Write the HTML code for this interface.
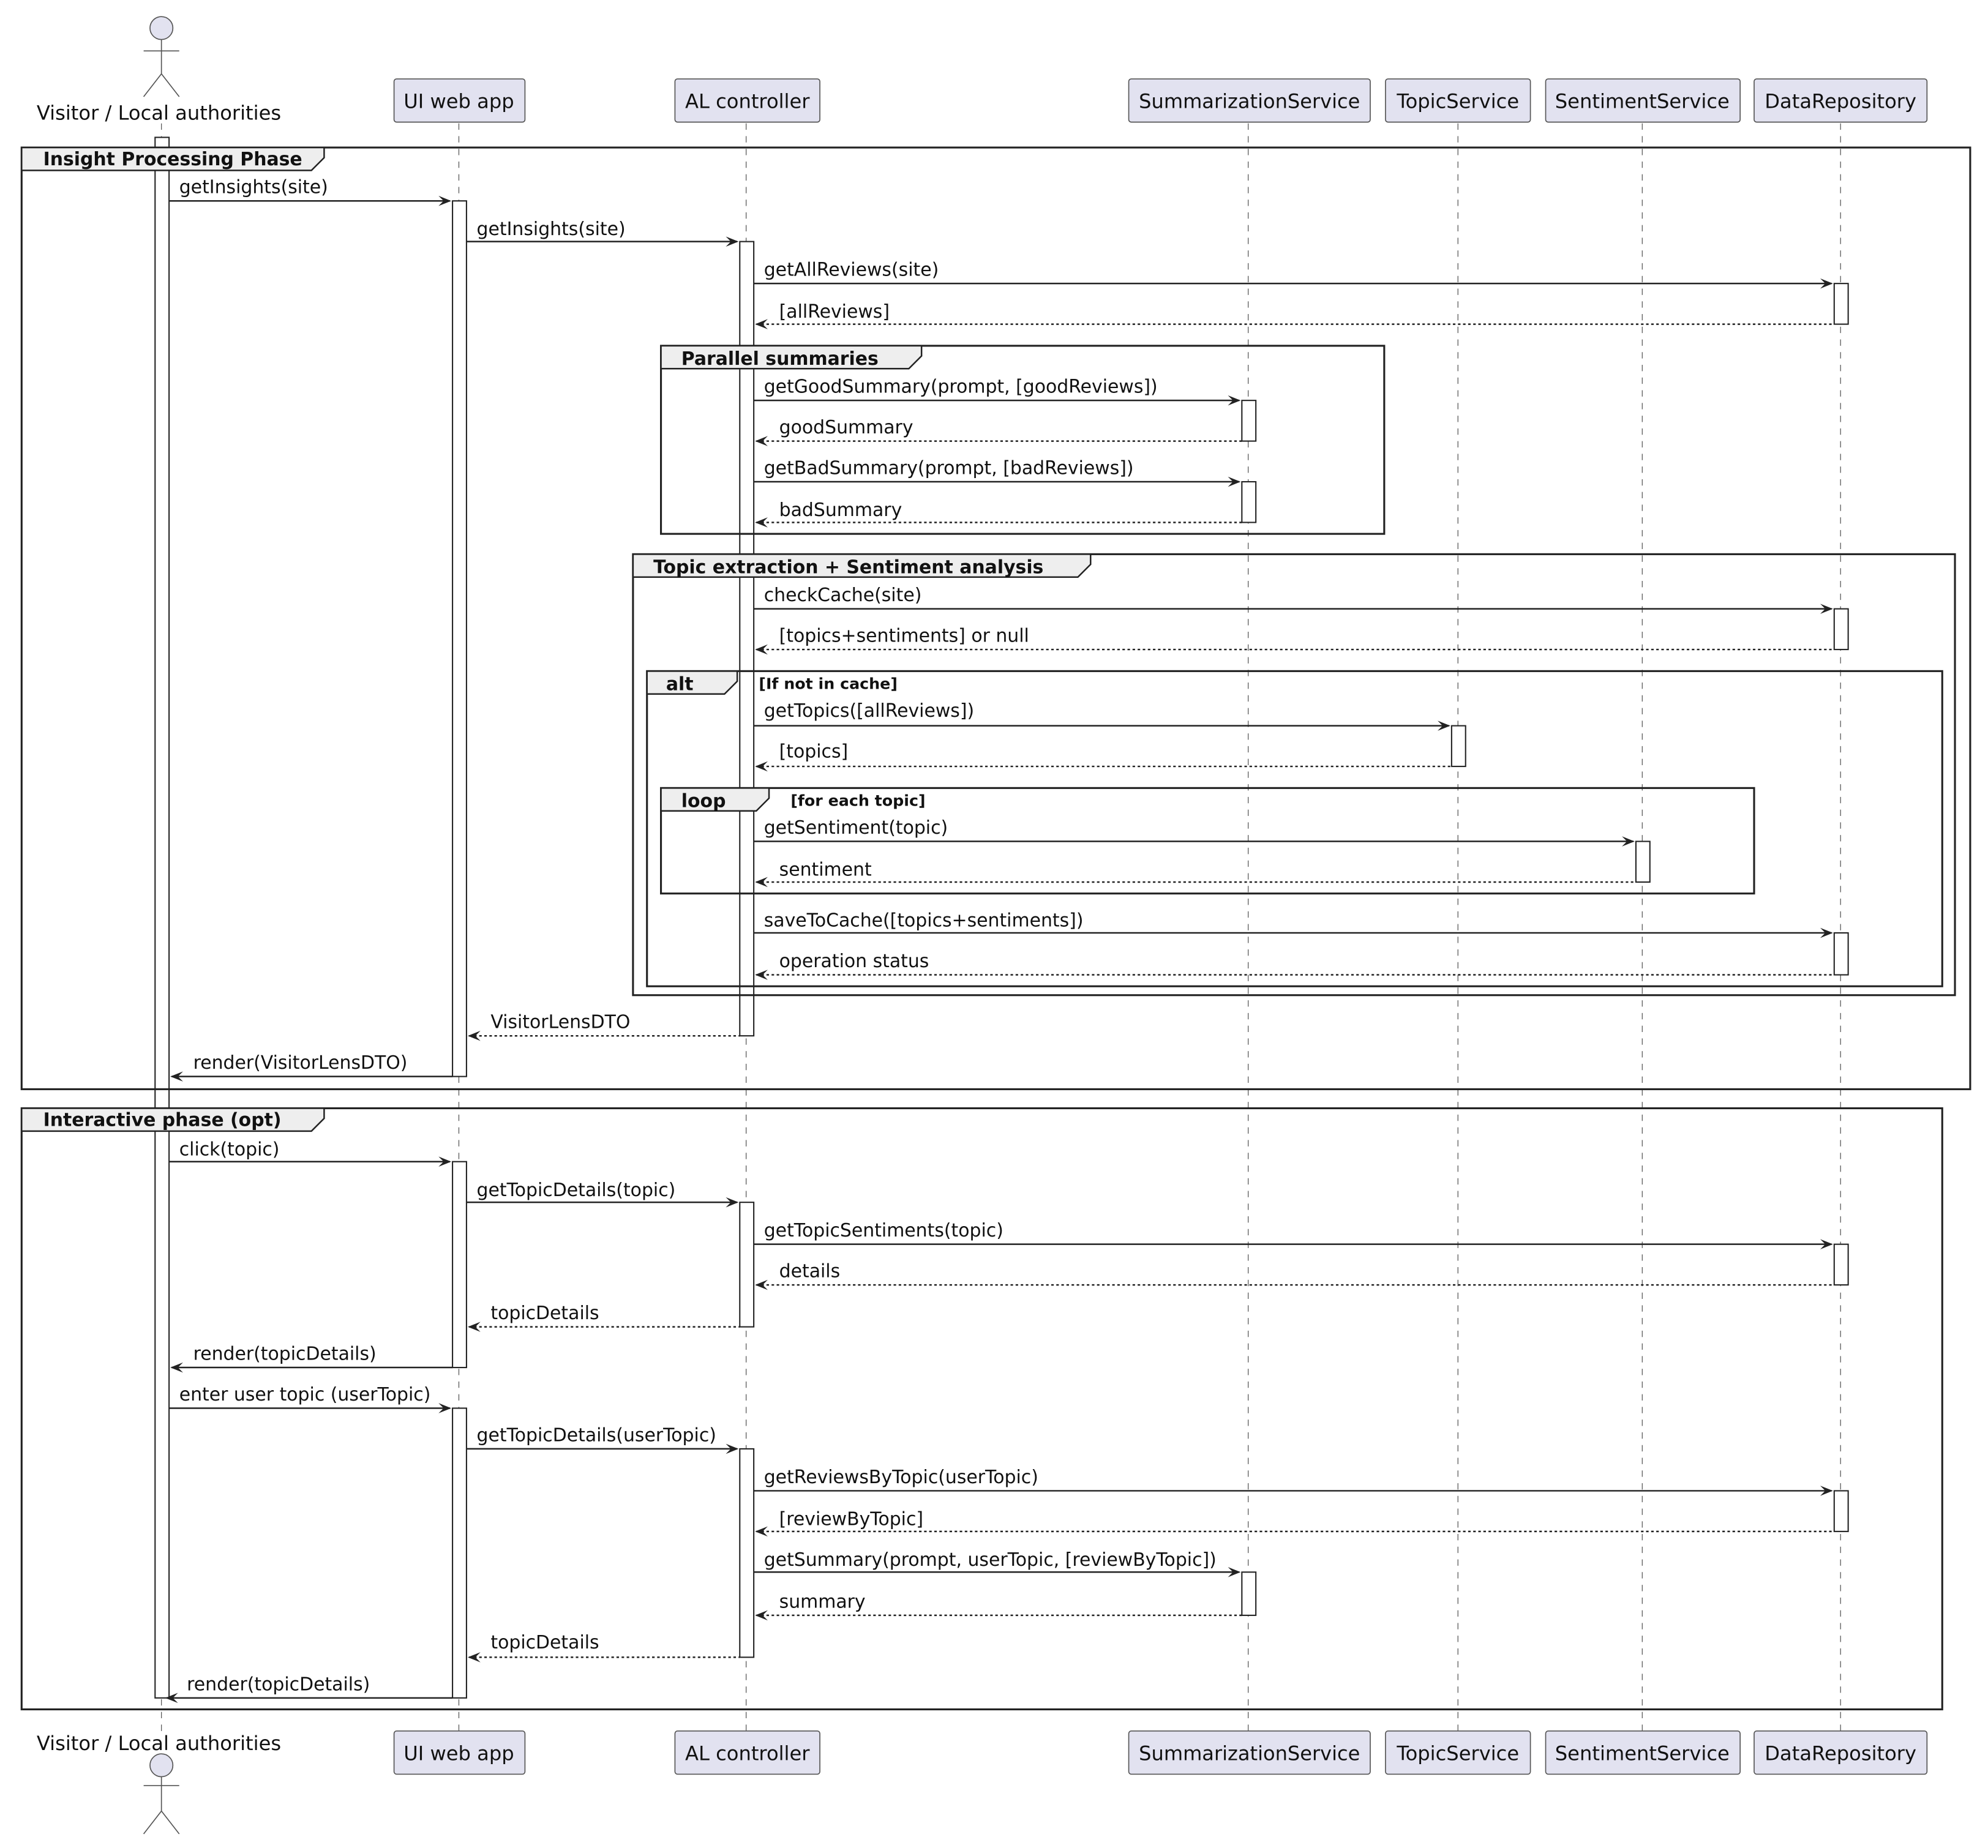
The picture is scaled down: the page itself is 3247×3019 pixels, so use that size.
<!DOCTYPE html>
<html><head><meta charset="utf-8"><style>html,body{margin:0;padding:0;background:#fff}svg{display:block}</style></head>
<body>
<svg xmlns="http://www.w3.org/2000/svg" width="3247" height="3019" viewBox="0 0 1564 1454" font-family="'DejaVu Sans','Liberation Sans',sans-serif" font-size="14.4">
<rect width="1564" height="1454" fill="#fff"/>
<!-- lifelines -->
<g stroke="#555" stroke-width="0.6" stroke-dasharray="5,5">
<line x1="127" y1="97" x2="127" y2="1362"/>
<line x1="361" y1="97" x2="361" y2="1362"/>
<line x1="587" y1="97" x2="587" y2="1362"/>
<line x1="982" y1="97" x2="982" y2="1362"/>
<line x1="1147" y1="97" x2="1147" y2="1362"/>
<line x1="1292" y1="97" x2="1292" y2="1362"/>
<line x1="1448" y1="97" x2="1448" y2="1362"/>
</g>
<!-- participants -->
<g fill="#e2e2f0" stroke="#555" stroke-width="0.8">
<rect x="310" y="62" width="103" height="34" rx="2"/><rect x="531" y="62" width="114" height="34" rx="2"/>
<rect x="888" y="62" width="190" height="34" rx="2"/><rect x="1090" y="62" width="114" height="34" rx="2"/>
<rect x="1216" y="62" width="153" height="34" rx="2"/><rect x="1380" y="62" width="136" height="34" rx="2"/>
<rect x="310" y="1362" width="103" height="34" rx="2"/><rect x="531" y="1362" width="114" height="34" rx="2"/>
<rect x="888" y="1362" width="190" height="34" rx="2"/><rect x="1090" y="1362" width="114" height="34" rx="2"/>
<rect x="1216" y="1362" width="153" height="34" rx="2"/><rect x="1380" y="1362" width="136" height="34" rx="2"/>
</g>
<g text-anchor="middle" fill="#111" font-size="15.5">
<text x="361" y="85">UI web app</text><text x="588" y="85">AL controller</text>
<text x="983" y="85" textLength="174" lengthAdjust="spacingAndGlyphs">SummarizationService</text><text x="1147" y="85">TopicService</text>
<text x="1292" y="85">SentimentService</text><text x="1448" y="85">DataRepository</text>
<text x="361" y="1385">UI web app</text><text x="588" y="1385">AL controller</text>
<text x="983" y="1385" textLength="174" lengthAdjust="spacingAndGlyphs">SummarizationService</text><text x="1147" y="1385">TopicService</text>
<text x="1292" y="1385">SentimentService</text><text x="1448" y="1385">DataRepository</text>
<text x="125" y="94">Visitor / Local authorities</text>
<text x="125" y="1377">Visitor / Local authorities</text>
</g>
<!-- actors -->
<g stroke="#555" stroke-width="0.8" fill="none">
<ellipse cx="127" cy="22" rx="9" ry="9" fill="#e2e2f0"/><line x1="127" y1="31" x2="127" y2="58"/><line x1="113" y1="40" x2="141" y2="40"/><polyline points="113,76 127,58 141,76"/>
<ellipse cx="127" cy="1389" rx="9" ry="9" fill="#e2e2f0"/><line x1="127" y1="1398" x2="127" y2="1425"/><line x1="113" y1="1405" x2="141" y2="1405"/><polyline points="113,1443 127,1425 141,1443"/>
</g>
<!-- activations -->
<g fill="#fff" stroke="#222" stroke-width="1">
<rect x="122" y="108" width="11" height="1228"/>
<rect x="356" y="158" width="11" height="689"/><rect x="356" y="914" width="11" height="162"/><rect x="356" y="1108" width="11" height="228"/>
<rect x="582" y="190" width="11" height="625"/><rect x="582" y="946" width="11" height="98"/><rect x="582" y="1140" width="11" height="164"/>
<rect x="977" y="315" width="11" height="32"/><rect x="977" y="379" width="11" height="32"/><rect x="977" y="1237" width="11" height="34"/>
<rect x="1142" y="571" width="11" height="32"/><rect x="1287" y="662" width="11" height="32"/>
<rect x="1443" y="223" width="11" height="32"/><rect x="1443" y="479" width="11" height="32"/><rect x="1443" y="734" width="11" height="33"/><rect x="1443" y="979" width="11" height="32"/><rect x="1443" y="1173" width="11" height="32"/>
</g>
<!-- frames -->
<g fill="none" stroke="#222" stroke-width="1.5">
<rect x="17" y="116" width="1533" height="741"/>
<rect x="520" y="272" width="569" height="148"/>
<rect x="498" y="436" width="1040" height="347"/>
<rect x="509" y="528" width="1019" height="248"/>
<rect x="520" y="620" width="860" height="83"/>
<rect x="17" y="872" width="1511" height="473"/>
</g>
<g fill="#eee" stroke="#222" stroke-width="1.2">
<polygon points="17,116 255,116 255,124 245,134 17,134"/>
<polygon points="520,272 725,272 725,280 715,290 520,290"/>
<polygon points="498,436 858,436 858,444 848,454 498,454"/>
<polygon points="509,528 580,528 580,536 570,546 509,546"/>
<polygon points="520,620 605,620 605,628 595,638 520,638"/>
<polygon points="17,872 255,872 255,880 245,890 17,890"/>
</g>
<g font-weight="bold" fill="#111">
<text x="34" y="130">Insight Processing Phase</text>
<text x="536" y="287">Parallel summaries</text>
<text x="514" y="451">Topic extraction + Sentiment analysis</text>
<text x="524" y="543">alt</text>
<text x="536" y="635">loop</text>
<text x="34" y="886">Interactive phase (opt)</text>
<text x="597" y="542" font-size="12.2">[If not in cache]</text>
<text x="622" y="634" font-size="12.2">[for each topic]</text>
</g>
<!-- solid messages -->
<g stroke="#222" stroke-width="1.2">
<line x1="133" y1="158" x2="354" y2="158"/><line x1="367" y1="190" x2="580" y2="190"/>
<line x1="593" y1="223" x2="1441" y2="223"/><line x1="593" y1="315" x2="975" y2="315"/>
<line x1="593" y1="379" x2="975" y2="379"/><line x1="593" y1="479" x2="1441" y2="479"/>
<line x1="593" y1="571" x2="1140" y2="571"/><line x1="593" y1="662" x2="1285" y2="662"/>
<line x1="593" y1="734" x2="1441" y2="734"/><line x1="135" y1="847" x2="356" y2="847"/>
<line x1="133" y1="914" x2="354" y2="914"/><line x1="367" y1="946" x2="580" y2="946"/>
<line x1="593" y1="979" x2="1441" y2="979"/><line x1="135" y1="1076" x2="356" y2="1076"/>
<line x1="133" y1="1108" x2="354" y2="1108"/><line x1="367" y1="1140" x2="580" y2="1140"/>
<line x1="593" y1="1173" x2="1441" y2="1173"/><line x1="593" y1="1237" x2="975" y2="1237"/>
<line x1="131" y1="1336" x2="356" y2="1336"/>
</g>
<g stroke="#222" stroke-width="1.2" stroke-dasharray="2,2">
<line x1="595" y1="255" x2="1443" y2="255"/><line x1="595" y1="347" x2="977" y2="347"/>
<line x1="595" y1="411" x2="977" y2="411"/><line x1="595" y1="511" x2="1443" y2="511"/>
<line x1="595" y1="603" x2="1142" y2="603"/><line x1="595" y1="694" x2="1287" y2="694"/>
<line x1="595" y1="767" x2="1443" y2="767"/><line x1="369" y1="815" x2="582" y2="815"/>
<line x1="595" y1="1011" x2="1443" y2="1011"/><line x1="369" y1="1044" x2="582" y2="1044"/>
<line x1="595" y1="1205" x2="1443" y2="1205"/><line x1="595" y1="1271" x2="977" y2="1271"/>
<line x1="369" y1="1304" x2="582" y2="1304"/>
</g>
<!-- arrowheads -->
<g fill="#222">
<polygon points="355,158 345,154 349,158 345,162"/><polygon points="581,190 571,186 575,190 571,194"/>
<polygon points="1442,223 1432,219 1436,223 1432,227"/><polygon points="976,315 966,311 970,315 966,319"/>
<polygon points="976,379 966,375 970,379 966,383"/><polygon points="1442,479 1432,475 1436,479 1432,483"/>
<polygon points="1141,571 1131,567 1135,571 1131,575"/><polygon points="1286,662 1276,658 1280,662 1276,666"/>
<polygon points="1442,734 1432,730 1436,734 1432,738"/>
<polygon points="355,914 345,910 349,914 345,918"/><polygon points="581,946 571,942 575,946 571,950"/>
<polygon points="1442,979 1432,975 1436,979 1432,983"/>
<polygon points="355,1108 345,1104 349,1108 345,1112"/><polygon points="581,1140 571,1136 575,1140 571,1144"/>
<polygon points="1442,1173 1432,1169 1436,1173 1432,1177"/><polygon points="976,1237 966,1233 970,1237 966,1241"/>
<polygon points="594,255 604,251 600,255 604,259"/><polygon points="594,347 604,343 600,347 604,351"/>
<polygon points="594,411 604,407 600,411 604,415"/><polygon points="594,511 604,507 600,511 604,515"/>
<polygon points="594,603 604,599 600,603 604,607"/><polygon points="594,694 604,690 600,694 604,698"/>
<polygon points="594,767 604,763 600,767 604,771"/><polygon points="368,815 378,811 374,815 378,819"/>
<polygon points="134,847 144,843 140,847 144,851"/>
<polygon points="594,1011 604,1007 600,1011 604,1015"/><polygon points="368,1044 378,1040 374,1044 378,1048"/>
<polygon points="134,1076 144,1072 140,1076 144,1080"/>
<polygon points="594,1205 604,1201 600,1205 604,1209"/><polygon points="594,1271 604,1267 600,1271 604,1275"/>
<polygon points="368,1304 378,1300 374,1304 378,1308"/><polygon points="130,1336 140,1332 136,1336 140,1340"/>
</g>
<!-- labels -->
<g fill="#111">
<text x="141" y="152">getInsights(site)</text>
<text x="375" y="185">getInsights(site)</text>
<text x="601" y="217">getAllReviews(site)</text>
<text x="613" y="250">[allReviews]</text>
<text x="601" y="309">getGoodSummary(prompt, [goodReviews])</text>
<text x="613" y="341">goodSummary</text>
<text x="601" y="373">getBadSummary(prompt, [badReviews])</text>
<text x="613" y="406">badSummary</text>
<text x="601" y="473">checkCache(site)</text>
<text x="613" y="505">[topics+sentiments] or null</text>
<text x="601" y="564">getTopics([allReviews])</text>
<text x="613" y="596">[topics]</text>
<text x="601" y="656">getSentiment(topic)</text>
<text x="613" y="689">sentiment</text>
<text x="601" y="729">saveToCache([topics+sentiments])</text>
<text x="613" y="761">operation status</text>
<text x="386" y="809">VisitorLensDTO</text>
<text x="152" y="841">render(VisitorLensDTO)</text>
<text x="141" y="909">click(topic)</text>
<text x="375" y="941">getTopicDetails(topic)</text>
<text x="601" y="973">getTopicSentiments(topic)</text>
<text x="613" y="1005">details</text>
<text x="386" y="1038">topicDetails</text>
<text x="152" y="1070">render(topicDetails)</text>
<text x="141" y="1102">enter user topic (userTopic)</text>
<text x="375" y="1134">getTopicDetails(userTopic)</text>
<text x="601" y="1167">getReviewsByTopic(userTopic)</text>
<text x="613" y="1200">[reviewByTopic]</text>
<text x="601" y="1232">getSummary(prompt, userTopic, [reviewByTopic])</text>
<text x="613" y="1265">summary</text>
<text x="386" y="1297">topicDetails</text>
<text x="147" y="1330">render(topicDetails)</text>
</g>
</svg>
</body></html>
